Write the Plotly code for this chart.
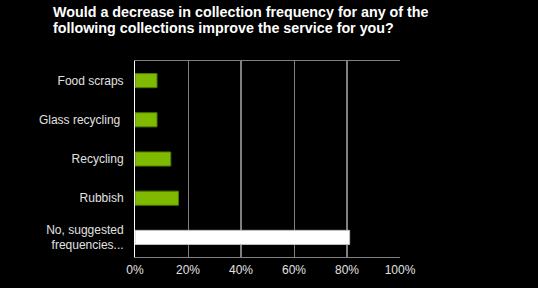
import plotly.graph_objects as go

categories = ["Food scraps", "Glass recycling ", "Recycling", "Rubbish", "No, suggested<br>frequencies..."]
values = [8.3, 8.3, 13.5, 16.4, 81.0]
bar_colors = ["#7fba00", "#7fba00", "#7fba00", "#7fba00", "#ffffff"]
edge_colors = ["#4f7a00", "#4f7a00", "#4f7a00", "#4f7a00", "#bfbfbf"]
x_ticks = [0, 20, 40, 60, 80, 100]
x_tick_text = ["0%", "20%", "40%", "60%", "80%", "100%"]
white_grid = [40, 80]
title_lines = ["Would a decrease in collection frequency for any of the",
               "following collections improve the service for you?"]

fig = go.Figure()
fig.add_trace(go.Bar(
    y=categories, x=values, orientation="h",
    marker=dict(color=bar_colors, line=dict(color=edge_colors, width=1)),
    width=0.36, hoverinfo="skip",
))

for gx in white_grid:
    fig.add_shape(type="line", xref="x", yref="paper", x0=gx, x1=gx, y0=0, y1=1,
                  line=dict(color="#ffffff", width=1), layer="below")

for i, line in enumerate(title_lines):
    fig.add_annotation(
        text=line, xref="paper", yref="paper",
        x=(51 - 135) / 265, xanchor="left",
        y=1 + (61 - (12 + 15.5 * i)) / 196, yanchor="middle",
        showarrow=False,
        font=dict(family="Liberation Sans, Arial, sans-serif", size=14.3, color="#ffffff", weight="bold"),
    )

fig.update_layout(
    width=538, height=288,
    margin=dict(l=135, r=138, t=61, b=31),
    paper_bgcolor="#000000", plot_bgcolor="#000000",
    showlegend=False,
    font=dict(family="Liberation Sans, Arial, sans-serif", size=12, color="#e0e0e0"),
    xaxis=dict(
        range=[0, 100], tickvals=x_ticks, ticktext=x_tick_text,
        showgrid=True, gridcolor="#808080", gridwidth=1,
        showline=True, linecolor="#808080", linewidth=1, mirror=True,
        zeroline=False, ticks="outside", ticklen=2, tickcolor="rgba(0,0,0,0)",
        tickfont=dict(size=12, color="#e0e0e0"), fixedrange=True,
    ),
    yaxis=dict(
        autorange="reversed", showgrid=False,
        showline=True, linecolor="#ffffff", linewidth=1,
        ticks="outside", ticklen=8, tickcolor="rgba(0,0,0,0)",
        tickfont=dict(size=12, color="#e0e0e0"), fixedrange=True,
    ),
)

fig.write_html("out.html")
